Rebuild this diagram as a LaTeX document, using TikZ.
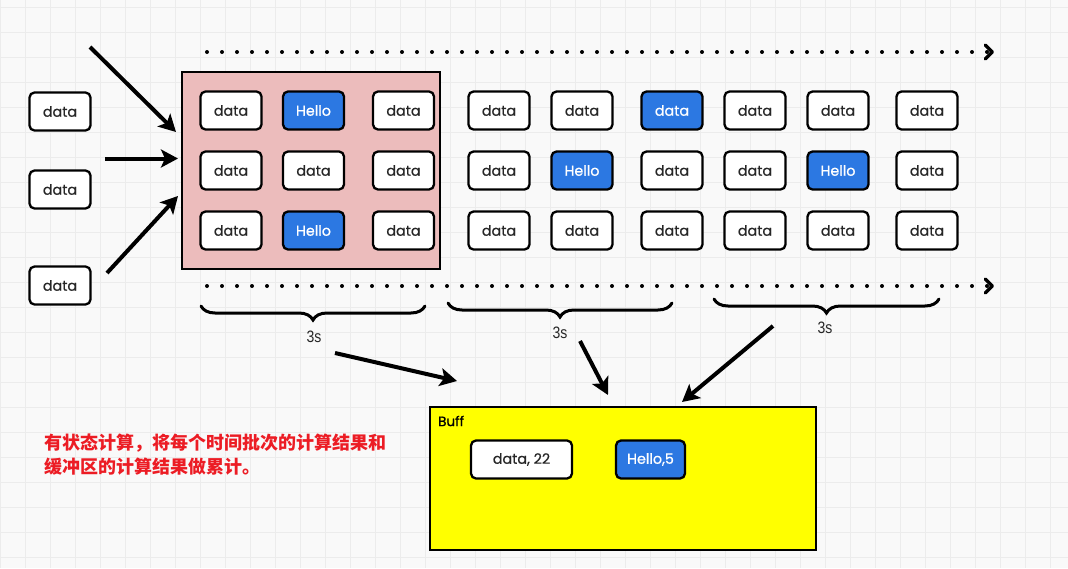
\documentclass[tikz,border=0pt]{standalone}
\usepackage{fontspec}
\setmainfont{Poppins}
\newfontfamily\boxfont{Poppins}[FakeBold=0.8]
\newfontfamily\cjk{Noto Sans CJK SC}
\newfontfamily\labfont{Liberation Sans}[FakeStretch=0.85]
\usetikzlibrary{arrows.meta,decorations.pathreplacing}
\definecolor{bgc}{RGB}{249,249,249}
\definecolor{gridc}{RGB}{236,236,236}
\definecolor{pinkf}{RGB}{236,188,188}
\definecolor{hblue}{RGB}{44,120,226}
\definecolor{yel}{RGB}{255,255,0}
\definecolor{redt}{RGB}{236,28,36}
\tikzset{
  gridl/.style={gridc, line width=1},
  dbox/.style={draw=black, line width=2.3, rounded corners=5, fill=white,
    minimum width=61, minimum height=38, inner sep=0,
    font=\boxfont\fontsize{14.3}{16}\selectfont, text=black!85},
  hbox/.style={dbox, fill=hblue, text=white},
  frame/.style={draw=black, line width=2.6, inner sep=0},
  dotline/.style={line width=4, line cap=round, dash pattern=on 0pt off 15pt,
    -{Straight Barb[length=7,width=14,line width=3.5,line cap=round,line join=round]}},
  bigarrow/.style={line width=4, -{Stealth[length=17,width=18,inset=4]}},
  brc/.style={line width=3, line cap=round, decorate, decoration={brace, mirror, amplitude=14, aspect=0.5}},
  lab/.style={font=\labfont\fontsize{16.5}{18}\selectfont, text=black!85, inner sep=0}
}
\begin{document}
\begin{tikzpicture}[x=1pt,y=-1pt]
\fill[bgc] (0,0) rectangle (1068,568);
\useasboundingbox (0,0) rectangle (1068,568);
\foreach \x in {0,25,...,1050} \draw[gridl] (\x,0) -- (\x,568);
\foreach \y in {7,32,...,560} \draw[gridl] (0,\y) -- (1068,\y);

% dotted time axes
\coordinate (t1s) at (207,52);
\coordinate (t1e) at (994,52);
\coordinate (t2s) at (207,286);
\coordinate (t2e) at (994,286);
\draw[dotline] (t1s) -- (t1e);
\draw[dotline] (t2s) -- (t2e);

% window
\node[frame, fill=pinkf, minimum width=258, minimum height=197] (win) at (311,170.5) {};

% left incoming data
\node[dbox] (in1) at (60,111.5) {data};
\node[dbox] (in2) at (60,189.5) {data};
\node[dbox] (in3) at (60,285.5) {data};

% window content
\node[dbox] (w11) at (231,110.5) {data};
\node[hbox] (w12) at (313.5,110.5) {Hello};
\node[dbox] (w13) at (403.5,110.5) {data};
\node[dbox] (w21) at (231,170.5) {data};
\node[dbox] (w22) at (313.5,170.5) {data};
\node[dbox] (w23) at (403.5,170.5) {data};
\node[dbox] (w31) at (231,230.5) {data};
\node[hbox] (w32) at (313.5,230.5) {Hello};
\node[dbox] (w33) at (403.5,230.5) {data};

% following batches
\node[dbox] (r11) at (499,110.5) {data};
\node[dbox] (r12) at (582,110.5) {data};
\node[hbox] (r13) at (672,110.5) {data};
\node[dbox] (r14) at (755,110.5) {data};
\node[dbox] (r15) at (838,110.5) {data};
\node[dbox] (r16) at (927,110.5) {data};
\node[dbox] (r21) at (499,170.5) {data};
\node[hbox] (r22) at (582,170.5) {Hello};
\node[dbox] (r23) at (672,170.5) {data};
\node[dbox] (r24) at (755,170.5) {data};
\node[hbox] (r25) at (838,170.5) {Hello};
\node[dbox] (r26) at (927,170.5) {data};
\node[dbox] (r31) at (499,230.5) {data};
\node[dbox] (r32) at (582,230.5) {data};
\node[dbox] (r33) at (672,230.5) {data};
\node[dbox] (r34) at (755,230.5) {data};
\node[dbox] (r35) at (838,230.5) {data};
\node[dbox] (r36) at (927,230.5) {data};

% arrows into window
\coordinate (a1s) at (90,47);
\coordinate (a1e) at (176,132);
\coordinate (a2s) at (105,158.5);
\coordinate (a2e) at (178,158.5);
\coordinate (a3s) at (107,273);
\coordinate (a3e) at (178,196);
\draw[bigarrow] (a1s) -- (a1e);
\draw[bigarrow] (a2s) -- (a2e);
\draw[bigarrow] (a3s) -- (a3e);

% braces
\coordinate (b1s) at (201,306);
\coordinate (b1e) at (425,306);
\coordinate (b2s) at (448,303);
\coordinate (b2e) at (672,303);
\coordinate (b3s) at (714,299);
\coordinate (b3e) at (939,299);
\draw[brc] (b1s) -- (b1e);
\draw[brc] (b2s) -- (b2e);
\draw[brc] (b3s) -- (b3e);
\node[lab] (s1) at (314,337) {3s};
\node[lab] (s2) at (560,333) {3s};
\node[lab] (s3) at (825,328) {3s};

% buffer
\node[frame, fill=yel, minimum width=386, minimum height=143] (buf) at (623,478.5) {};
\node[anchor=west, inner sep=0, font=\boxfont\fontsize{13.5}{15}\selectfont] (bufl) at (438,421) {Buff};
\node[dbox, minimum width=101] (bd) at (521.5,459.5) {data, 22};
\node[hbox, minimum width=69] (bh) at (650.5,459.5) {Hello,5};

% arrows to buffer
\coordinate (c1s) at (335,353);
\coordinate (c1e) at (457,381);
\coordinate (c2s) at (580,341);
\coordinate (c2e) at (608,395);
\coordinate (c3s) at (773,326);
\coordinate (c3e) at (682,402);
\draw[bigarrow] (c1s) -- (c1e);
\draw[bigarrow] (c2s) -- (c2e);
\draw[bigarrow] (c3s) -- (c3e);

% note
\node[anchor=north west, inner sep=0, align=left, text=redt,
  font=\cjk\bfseries\fontsize{18}{24}\selectfont] (note) at (44,434)
  {有状态计算，将每个时间批次的计算结果和\\缓冲区的计算结果做累计。};
\end{tikzpicture}
\end{document}
